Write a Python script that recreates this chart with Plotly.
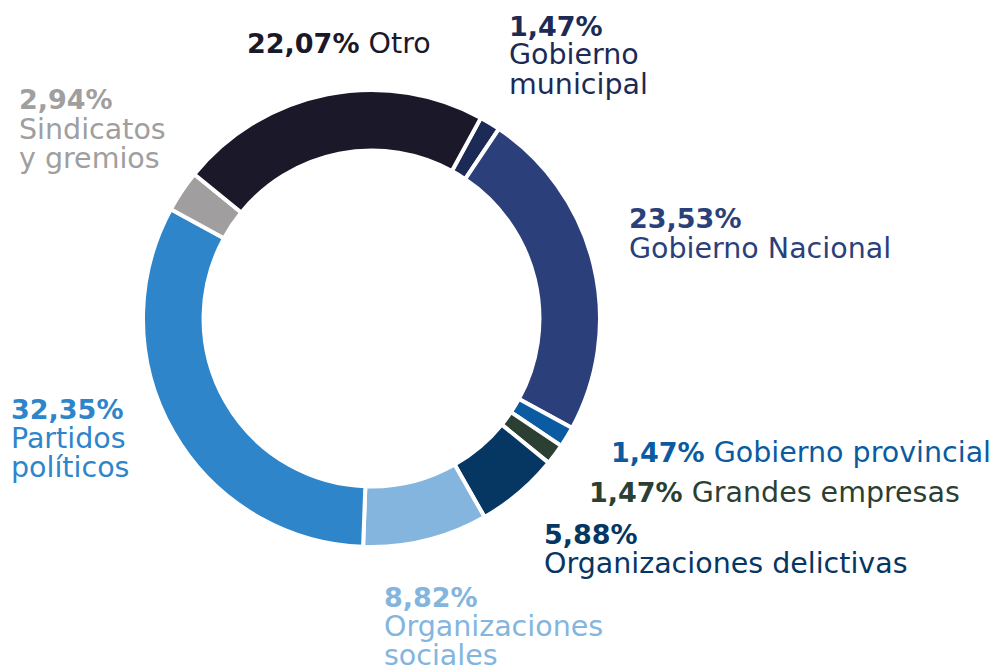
import plotly.graph_objects as go

categories = ["Gobierno municipal", "Gobierno Nacional", "Gobierno provincial",
              "Grandes empresas", "Organizaciones delictivas", "Organizaciones sociales",
              "Partidos políticos", "Sindicatos y gremios", "Otro"]
values = [1.47, 23.53, 1.47, 1.47, 5.88, 8.82, 32.35, 2.94, 22.07]
pct_labels = ["1,47%", "23,53%", "1,47%", "1,47%", "5,88%", "8,82%", "32,35%", "2,94%", "22,07%"]
colors = ["#1c2a56", "#2b3f7a", "#0a5ba1", "#2b3f33", "#063662",
          "#83b5de", "#2e85ca", "#a09e9e", "#1b1829"]

W, H = 990, 666

fig = go.Figure(go.Pie(
    labels=categories, values=values, sort=False, direction="clockwise",
    rotation=28.6, hole=0.735, textinfo="none", hoverinfo="label+percent",
    marker=dict(colors=colors, line=dict(color="white", width=4)),
    domain=dict(x=[143 / W, 600 / W], y=[1 - 547 / H, 1 - 90 / H]),
    showlegend=False,
))


def pct(i):
    return f"<span style='font-size:27px'><b>{pct_labels[i]}</b></span>"


# label layout: (category index, lines, left x px, first line center y px)
label_layout = [
    (8, [f"{pct(8)} Otro"], 245, 43),
    (0, [pct(0), "Gobierno", "municipal"], 507, 26),
    (7, [pct(7), "Sindicatos", "y gremios"], 17, 100),
    (1, [pct(1), "Gobierno Nacional"], 627, 219),
    (2, [f"{pct(2)} Gobierno provincial"], 609, 452),
    (3, [f"{pct(3)} Grandes empresas"], 587, 492),
    (4, [pct(4), "Organizaciones delictivas"], 542, 534),
    (5, [pct(5), "Organizaciones", "sociales"], 382, 597),
    (6, [pct(6), "Partidos", "políticos"], 9, 409),
]
line_gap = 29

annotations = []
for idx, lines, x0, y0 in label_layout:
    for k, txt in enumerate(lines):
        annotations.append(dict(
            text=txt, x=x0 / W, y=1 - (y0 + k * line_gap) / H,
            xref="paper", yref="paper", xanchor="left", yanchor="middle",
            showarrow=False,
            font=dict(family="DejaVu Sans", size=28.5, color=colors[idx]),
        ))

fig.update_layout(
    width=W, height=H, margin=dict(l=0, r=0, t=0, b=0),
    paper_bgcolor="white", plot_bgcolor="white",
    annotations=annotations,
)

fig.write_html("out.html", config={"displayModeBar": False},
               post_script="document.body.style.margin='0';document.body.style.overflow='hidden';")
